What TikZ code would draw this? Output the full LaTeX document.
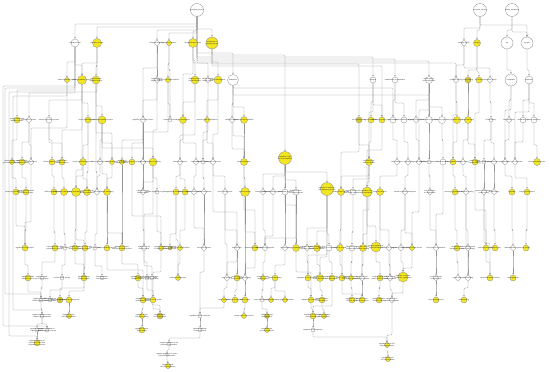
\documentclass[tikz,border=0pt]{standalone}
\usepackage{fontspec}
\setmainfont{Liberation Sans}
\usepackage{tikz}
\usetikzlibrary{arrows.meta}
\usetikzlibrary{backgrounds}
\definecolor{goyel}{RGB}{242,230,34}
\definecolor{gomid}{RGB}{214,200,40}
\newcommand{\isa}[3]{\draw[isa] (#1.south) |- (#2.north |- 0,#3) -- (#2.north);}
\newcommand{\isavia}[5]{\draw[isa] (#1.south) |- (#4,#3) |- (#2.north |- 0,#5) -- (#2.north);}
\tikzset{
  goterm/.style={circle,draw=black!45,fill=white,line width=0.3pt,inner sep=0pt,minimum size=#1pt},
  gohit/.style={goterm=#1,fill=goyel},
  gomid/.style={goterm=#1,fill=gomid},
  lbl/.style={font=\fontsize{1.6}{1.8}\selectfont,text=black!90,inner sep=0pt,text width=22pt,align=center},
  lab/.style={label={[lbl]center:#1}},
  isa/.style={draw=black!42,line width=0.35pt,rounded corners=1pt,-{Stealth[length=1.8pt,width=1.4pt]}}
}

\begin{document}
\begin{tikzpicture}[x=1pt,y=-1pt]
  \useasboundingbox (0,0) rectangle (550,372);
  % roots
  \node[goterm=13,lab=biological\_process] (a1) at (197,10) {};
  \node[goterm=13,lab=molecular\_function] (a2) at (480,10) {};
  \node[goterm=13,lab=cellular\_component] (a3) at (512,10) {};
  % level b
  \node[goterm=8,lab=cellular process] (b1) at (75,43) {};
  \node[gohit=9,lab=metabolic process] (b2) at (97,43) {};
  \node[goterm=5,lab=biological regulation] (b3) at (157,43) {};
  \node[gohit=5,lab=response to stimulus] (b4) at (169,43) {};
  \node[gohit=9,lab=developmental process] (b5) at (193,43) {};
  \node[gohit=12,lab=multicellular organismal process] (b6) at (212,43) {};
  \node[goterm=5,lab=catalytic activity] (b7) at (464,43) {};
  \node[gohit=7,lab=binding] (b8) at (477,43) {};
  \node[goterm=12,lab=cell] (b9) at (507,43) {};
  \node[goterm=12,lab=cell part] (b10) at (527,43) {};
  % level c
  \node[gohit=5,lab=cellular metabolic process] (c1) at (67,80) {};
  \node[gohit=9,lab=primary metabolic process] (c2) at (82,80) {};
  \node[gohit=8,lab=macromolecule metabolic process] (c3) at (96,80) {};
  \node[goterm=5,lab=regulation of biological process] (c4) at (157,80) {};
  \node[gohit=5,lab=response to chemical stimulus] (c5) at (168,80) {};
  \node[gohit=8,lab=anatomical structure development] (c6) at (195,80) {};
  \node[goterm=5,lab=cellular developmental process] (c7) at (208,80) {};
  \node[gohit=8,lab=system development] (c8) at (218,80) {};
  \node[goterm=11,lab=localization] (c9) at (233,80) {};
  \node[goterm=6,lab=transport] (c10) at (373,80) {};
  \node[goterm=6,lab=establishment of localization] (c11) at (395,80) {};
  \node[goterm=7,lab=cellular component organization] (c12) at (429,80) {};
  \node[goterm=5,lab=hydrolase activity] (c13) at (456,80) {};
  \node[gomid=6,lab=protein binding] (c14) at (468,80) {};
  \node[gohit=6,lab=ion binding] (c15) at (479,80) {};
  \node[goterm=5,lab=transferase activity] (c16) at (490,80) {};
  \node[goterm=12,lab=intracellular] (c17) at (511,80) {};
  \node[goterm=8,lab=membrane] (c18) at (529,80) {};
  % level d
  \node[gohit=6,lab=nitrogen compound metabolic process] (d1) at (17,120) {};
  \node[goterm=5,lab=biosynthetic process] (d2) at (29,120) {};
  \node[goterm=6,lab=cellular biosynthetic process] (d3) at (49,120) {};
  \node[gohit=6,lab=protein metabolic process] (d4) at (88,120) {};
  \node[gohit=8,lab=nucleic acid metabolic process] (d5) at (102,120) {};
  \node[goterm=5,lab=regulation of cellular process] (d6) at (143,120) {};
  \node[goterm=4,lab=response to stress] (d7) at (170,120) {};
  \node[gohit=7,lab=organ development] (d8) at (183,120) {};
  \node[gohit=5,lab=nervous system development] (d9) at (207,120) {};
  \node[goterm=5,lab=cellular localization] (d10) at (232,120) {};
  \node[gohit=7,lab=macromolecule localization] (d11) at (244,120) {};
  \node[gomid=6,lab=cell communication] (d12) at (359,120) {};
  \node[gohit=6,lab=signal transduction] (d13) at (371,120) {};
  \node[gohit=6,lab=cell surface receptor signaling] (d14) at (382,120) {};
  \node[goterm=6,lab=ion transport] (d15) at (393,120) {};
  \node[goterm=6,lab=vesicle-mediated transport] (d16) at (404,120) {};
  \node[goterm=5,lab=organelle organization] (d17) at (416,120) {};
  \node[goterm=7,lab=cytoskeleton organization] (d18) at (429,120) {};
  \node[goterm=7,lab=membrane organization] (d19) at (442,120) {};
  \node[gohit=7,lab=peptidase activity] (d20) at (457,120) {};
  \node[gohit=7,lab=enzyme binding] (d21) at (468,120) {};
  \node[goterm=4,lab=kinase activity] (d22) at (491,120) {};
  \node[goterm=5,lab=intracellular part] (d23) at (509,120) {};
  \node[goterm=6,lab=membrane part] (d24) at (523,120) {};
  \node[goterm=6,lab=plasma membrane] (d25) at (534,120) {};
  % level e
  \node[gohit=5,lab=cellular nitrogen compound metabolic process] (e1) at (12,162) {};
  \node[gohit=6,lab=macromolecule biosynthetic process] (e2) at (22,162) {};
  \node[goterm=5,lab=gene expression] (e3) at (31,162) {};
  \node[gohit=6,lab=RNA metabolic process] (e4) at (52,162) {};
  \node[gohit=6,lab=cellular protein metabolic process] (e5) at (62,162) {};
  \node[gohit=7,lab=protein modification process] (e6) at (83,162) {};
  \node[goterm=5,lab=DNA metabolic process] (e7) at (100,162) {};
  \node[gohit=5,lab=RNA processing] (e8) at (112,162) {};
  \node[gohit=5,lab=regulation of metabolic process] (e9) at (122,162) {};
  \node[gohit=6,lab=regulation of gene expression] (e10) at (132,162) {};
  \node[goterm=5,lab=signaling] (e11) at (143,162) {};
  \node[gohit=8,lab=regulation of signaling] (e12) at (153,162) {};
  \node[goterm=5,lab=tissue development] (e13) at (180,162) {};
  \node[goterm=5,lab=neurogenesis] (e14) at (196,162) {};
  \node[goterm=4,lab=cell differentiation] (e15) at (203,162) {};
  \node[goterm=5,lab=generation of neurons] (e16) at (213,162) {};
  \node[gohit=7,lab=protein localization] (e17) at (244,162) {};
  \node[gohit=13,lab=multicellular organismal development] (e18) at (285,158) {};
  \node[gohit=7,lab=intracellular signal transduction] (e19) at (369,162) {};
  \node[goterm=5,lab=cation transport] (e20) at (397,162) {};
  \node[goterm=5,lab=endocytosis] (e21) at (408,162) {};
  \node[goterm=5,lab=organelle assembly] (e22) at (419,162) {};
  \node[goterm=4,lab=actin filament organization] (e23) at (429,162) {};
  \node[goterm=6,lab=membrane fusion] (e24) at (443,162) {};
  \node[gohit=6,lab=endopeptidase activity] (e25) at (453,162) {};
  \node[goterm=5,lab=receptor binding] (e26) at (463,162) {};
  \node[gohit=6,lab=protein domain specific binding] (e27) at (475,162) {};
  \node[goterm=4,lab=protein kinase activity] (e28) at (484,162) {};
  \node[goterm=5,lab=phosphotransferase activity] (e29) at (494,162) {};
  \node[goterm=5,lab=organelle] (e30) at (505,162) {};
  \node[goterm=5,lab=intrinsic to membrane] (e31) at (515,162) {};
  \node[gohit=7,lab=plasma membrane part] (e32) at (537,162) {};
  % level f
  \node[gohit=6,lab=nucleobase metabolic process] (f1) at (16,192) {};
  \node[gohit=6,lab=cellular macromolecule biosynthetic process] (f2) at (26,192) {};
  \node[gohit=6,lab=RNA biosynthetic process] (f3) at (54,192) {};
  \node[gohit=7,lab=transcription DNA-dependent] (f4) at (64,192) {};
  \node[gohit=9,lab=protein phosphorylation] (f5) at (76,192) {};
  \node[gohit=7,lab=post-translational protein modification] (f6) at (87,192) {};
  \node[goterm=5,lab=DNA repair] (f7) at (97,192) {};
  \node[gohit=7,lab=mRNA processing] (f8) at (107,192) {};
  \node[goterm=5,lab=regulation of signal transduction] (f9) at (143,192) {};
  \node[goterm=4,lab=positive regulation of signaling] (f10) at (157,192) {};
  \node[gohit=6,lab=epithelium development] (f11) at (176,192) {};
  \node[gohit=6,lab=tube development] (f12) at (185,192) {};
  \node[goterm=5,lab=neuron differentiation] (f13) at (194,192) {};
  \node[goterm=5,lab=cell fate commitment] (f14) at (204,192) {};
  \node[goterm=5,lab=neuron development] (f15) at (225,192) {};
  \node[gohit=9,lab=protein transport] (f16) at (245,192) {};
  \node[goterm=5,lab=embryo development] (f17) at (263,192) {};
  \node[goterm=5,lab=pattern specification process] (f18) at (273,192) {};
  \node[goterm=6,lab=reproductive process] (f19) at (285,192) {};
  \node[goterm=6,lab=anatomical structure morphogenesis] (f20) at (296,192) {};
  \node[gohit=13,lab=regulation of multicellular organismal process] (f21) at (327,189) {};
  \node[gohit=7,lab=protein kinase cascade] (f22) at (341,192) {};
  \node[goterm=6,lab=small GTPase mediated signal transduction] (f23) at (353,192) {};
  \node[gohit=10,lab=regulation of signal transduction] (f24) at (367,192) {};
  \node[gohit=7,lab=metal ion transport] (f25) at (380,192) {};
  \node[goterm=5,lab=receptor-mediated endocytosis] (f26) at (405,192) {};
  \node[goterm=5,lab=actin cytoskeleton organization] (f27) at (430,192) {};
  \node[gohit=6,lab=serine-type peptidase activity] (f28) at (455,192) {};
  \node[goterm=5,lab=growth factor binding] (f29) at (466,192) {};
  \node[goterm=5,lab=protein serine/threonine kinase activity] (f30) at (484,192) {};
  \node[goterm=5,lab=kinase binding] (f31) at (494,192) {};
  \node[gohit=6,lab=cytoplasm] (f32) at (512,192) {};
  \node[gohit=6,lab=integral to membrane] (f33) at (527,192) {};
  % level g
  \node[gohit=6,lab=regulation of transcription] (g1) at (25,248) {};
  \node[gohit=6,lab=transcription from RNA polymerase II promoter] (g2) at (55,248) {};
  \node[goterm=4,lab=RNA splicing] (g3) at (65,248) {};
  \node[gohit=6,lab=peptidyl-amino acid modification] (g4) at (75,248) {};
  \node[gohit=6,lab=protein amino acid phosphorylation] (g5) at (85,248) {};
  \node[goterm=4,lab=DNA replication] (g6) at (95,248) {};
  \node[gohit=6,lab=mRNA metabolic process] (g7) at (107,248) {};
  \node[gohit=6,lab=regulation of macromolecule metabolic process] (g8) at (122,248) {};
  \node[goterm=5,lab=regulation of cell communication] (g9) at (144,248) {};
  \node[gohit=5,lab=positive regulation of cellular process] (g10) at (161,248) {};
  \node[gomid=4,lab=negative regulation of cellular process] (g11) at (170,248) {};
  \node[gohit=5,lab=epithelial cell differentiation] (g12) at (180,248) {};
  \node[goterm=5,lab=cell morphogenesis] (g13) at (204,248) {};
  \node[goterm=5,lab=axonogenesis] (g14) at (237,248) {};
  \node[gohit=6,lab=intracellular protein transport] (g15) at (255,248) {};
  \node[goterm=5,lab=embryonic morphogenesis] (g16) at (265,248) {};
  \node[goterm=5,lab=reproduction] (g17) at (285,248) {};
  \node[gohit=7,lab=organ morphogenesis] (g18) at (296,248) {};
  \node[goterm=5,lab=regulation of developmental process] (g19) at (307,248) {};
  \node[gohit=7,lab=positive regulation of developmental process] (g20) at (317,248) {};
  \node[goterm=6,lab=regulation of cell differentiation] (g21) at (329,248) {};
  \node[gohit=7,lab=MAPKKK cascade] (g22) at (340,248) {};
  \node[goterm=6,lab=Ras protein signal transduction] (g23) at (352,248) {};
  \node[gohit=7,lab=regulation of intracellular signaling] (g24) at (363,248) {};
  \node[gohit=10,lab=positive regulation of signal transduction] (g25) at (376,247) {};
  \node[goterm=5,lab=calcium ion transport] (g26) at (389,248) {};
  \node[goterm=5,lab=regulation of endocytosis] (g27) at (401,248) {};
  \node[gohit=5,lab=actin filament-based process] (g28) at (412,248) {};
  \node[goterm=5,lab=cell projection organization] (g29) at (436,248) {};
  \node[gohit=6,lab=serine-type endopeptidase activity] (g30) at (457,248) {};
  \node[goterm=5,lab=transforming growth factor beta binding] (g31) at (468,248) {};
  \node[gohit=6,lab=protein kinase binding] (g32) at (486,248) {};
  \node[gohit=6,lab=cytoplasmic part] (g33) at (495,248) {};
  \node[goterm=5,lab=endomembrane system] (g34) at (513,248) {};
  \node[gohit=6,lab=cell surface] (g35) at (526,248) {};
  % level h
  \node[gohit=6,lab=regulation of RNA metabolic process] (h1) at (28,278) {};
  \node[goterm=4,lab=negative regulation of transcription] (h2) at (42,278) {};
  \node[goterm=4,lab=nuclear mRNA splicing] (h3) at (62,278) {};
  \node[gohit=6,lab=peptidyl-tyrosine phosphorylation] (h4) at (84,278) {};
  \node[goterm=4,lab=DNA-dependent DNA replication] (h5) at (102,278) {};
  \node[gohit=6,lab=regulation of protein metabolic process] (h6) at (138,278) {};
  \node[goterm=4,lab=regulation of cell proliferation] (h7) at (147,278) {};
  \node[goterm=4,lab=positive regulation of cell proliferation] (h8) at (152,278) {};
  \node[gohit=5,lab=epidermis development] (h9) at (178,278) {};
  \node[goterm=5,lab=axon guidance] (h10) at (227,278) {};
  \node[gohit=6,lab=neuron projection development] (h11) at (237,278) {};
  \node[goterm=5,lab=protein targeting] (h12) at (245,278) {};
  \node[gohit=5,lab=embryonic organ morphogenesis] (h13) at (263,278) {};
  \node[gohit=6,lab=gamete generation] (h14) at (275,278) {};
  \node[gohit=6,lab=regulation of cell development] (h15) at (308,278) {};
  \node[gohit=7,lab=positive regulation of cell differentiation] (h16) at (320,278) {};
  \node[gohit=6,lab=regulation of neuron differentiation] (h17) at (332,278) {};
  \node[gohit=6,lab=MAPK cascade] (h18) at (342,278) {};
  \node[gohit=5,lab=regulation of Ras protein signal transduction] (h19) at (351,278) {};
  \node[goterm=5,lab=regulation of protein kinase cascade] (h20) at (362,278) {};
  \node[gohit=6,lab=positive regulation of protein kinase cascade] (h21) at (380,278) {};
  \node[goterm=5,lab=cellular calcium ion homeostasis] (h22) at (390,278) {};
  \node[gohit=10,lab=regulation of cellular component organization] (h23) at (403,277) {};
  \node[goterm=5,lab=neuron projection morphogenesis] (h24) at (436,278) {};
  \node[goterm=5,lab=trypsin activity] (h25) at (458,278) {};
  \node[goterm=5,lab=SMAD binding] (h26) at (468,278) {};
  \node[gohit=6,lab=cytoskeletal protein binding] (h27) at (490,278) {};
  \node[gohit=6,lab=Golgi apparatus] (h28) at (513,278) {};
  % level i
  \node[goterm=4,lab=negative regulation of RNA metabolic process] (i1) at (41,300) {};
  \node[goterm=4,lab=RNA splicing via transesterification] (i2) at (50,300) {};
  \node[gomid=6,lab=peptidyl-tyrosine modification] (i3) at (60,300) {};
  \node[gohit=6,lab=regulation of phosphorylation] (i4) at (69,300) {};
  \node[gohit=6,lab=regulation of protein modification process] (i5) at (143,300) {};
  \node[gohit=6,lab=regulation of cell growth] (i6) at (153,300) {};
  \node[gohit=5,lab=axon extension] (i7) at (224,300) {};
  \node[gohit=6,lab=dendrite development] (i8) at (235,300) {};
  \node[gohit=6,lab=protein import] (i9) at (245,300) {};
  \node[goterm=4,lab=heart morphogenesis] (i10) at (262,300) {};
  \node[gohit=5,lab=spermatogenesis] (i11) at (271,300) {};
  \node[gohit=5,lab=male gamete generation] (i12) at (285,300) {};
  \node[gohit=6,lab=regulation of neurogenesis] (i13) at (311,300) {};
  \node[gohit=6,lab=positive regulation of neurogenesis] (i14) at (322,300) {};
  \node[gohit=6,lab=regulation of Ras GTPase activity] (i15) at (352,300) {};
  \node[gohit=6,lab=activation of protein kinase activity] (i16) at (362,300) {};
  \node[gohit=6,lab=positive regulation of MAPK cascade] (i17) at (379,300) {};
  \node[goterm=5,lab=regulation of organelle organization] (i18) at (392,300) {};
  \node[gohit=6,lab=axon morphogenesis] (i19) at (436,300) {};
  \node[gohit=6,lab=activin binding] (i20) at (464,300) {};
  % level j
  \node[goterm=4,lab=negative regulation of transcription DNA-dependent] (j1) at (42,316) {};
  \node[gohit=5,lab=regulation of protein phosphorylation] (j2) at (69,316) {};
  \node[gohit=5,lab=regulation of protein kinase activity] (j3) at (142,316) {};
  \node[gomid=6,lab=negative regulation of cell growth] (j4) at (160,316) {};
  \node[goterm=4,lab=regulation of axon extension] (j5) at (200,316) {};
  \node[gohit=5,lab=protein import into nucleus] (j6) at (244,316) {};
  \node[gomid=5,lab=cardiac chamber morphogenesis] (j7) at (267,316) {};
  \node[gohit=6,lab=regulation of neuron projection development] (j8) at (313,316) {};
  \node[gohit=5,lab=positive regulation of axonogenesis] (j9) at (324,316) {};
  % level k
  \node[goterm=4,lab=negative regulation of gene expression] (k1) at (37,330) {};
  \node[goterm=4,lab=negative regulation of RNA biosynthetic process] (k2) at (47,330) {};
  \node[gohit=6,lab=regulation of transferase activity] (k3) at (142,330) {};
  \node[goterm=4,lab=negative regulation of axon extension] (k4) at (200,330) {};
  \node[gohit=5,lab=ventricular septum morphogenesis] (k5) at (267,330) {};
  \node[goterm=4,lab=regulation of axonogenesis] (k6) at (313,330) {};
  % levels l to n
  \node[gohit=6,lab=negative regulation of transcription from RNA polymerase II promoter] (l1) at (37,343) {};
  \node[goterm=4,lab=negative regulation of cell projection organization] (l2) at (169,344) {};
  \node[gohit=5,lab=regulation of actin filament polymerization] (l3) at (387,345) {};
  \node[goterm=3,lab=negative regulation of neuron projection development] (m1) at (167,355) {};
  \node[gohit=5,lab=regulation of protein polymerization] (m2) at (388,359) {};
  \node[gohit=5,lab=negative regulation of axonogenesis] (n1) at (168,366) {};

  \begin{scope}[on background layer]
  \fill[white] (0,0) rectangle (550,372);
  % from the roots
  \isa{a1}{b1}{24} \isa{a1}{b2}{27} \isa{a1}{b3}{30} \isa{a1}{b4}{33}
  \isa{a1}{b5}{31} \isa{a1}{b6}{29}
  \isa{a1}{c9}{53} \isa{a1}{c10}{57} \isa{a1}{c11}{59} \isa{a1}{c12}{61}
  \isa{a1}{c13}{63}
  \isa{a2}{b7}{28} \isa{a2}{b8}{30} \isa{a2}{b10}{25}
  \isa{a3}{b9}{30} \isa{a3}{b10}{32}
  % b to c
  \isa{b1}{c1}{62} \isa{b1}{c2}{65} \isa{b2}{c2}{63} \isa{b2}{c3}{66}
  \isa{b3}{c4}{62} \isa{b4}{c5}{64} \isa{b5}{c6}{60} \isa{b5}{c7}{63}
  \isa{b6}{c8}{62} \isa{b6}{e18}{55} \isa{b6}{d12}{64} \isa{b6}{d14}{66}
  \isa{b7}{c13}{65} \isa{b7}{c16}{68} \isa{b8}{c14}{70} \isa{b8}{c15}{72}
  \isa{b9}{c17}{70} \isa{b10}{c18}{70}
  \isa{b3}{d6}{68} \isa{b4}{d7}{70} \isa{b5}{d8}{74}
  % c to d
  \isa{b1}{d1}{90} \isa{b1}{d2}{93}
  \isa{c2}{d3}{100} \isa{c2}{d4}{103} \isa{c3}{d5}{106}
  \isa{c4}{d6}{100} \isa{c5}{d7}{104} \isa{c6}{d8}{102} \isa{c8}{d9}{100}
  \isa{c9}{d10}{104} \isa{c9}{d11}{107} \isa{c9}{d15}{88} \isa{c9}{d18}{95}
  \isa{c10}{d13}{102} \isa{c10}{d14}{105} \isa{c11}{d15}{100} \isa{c11}{d16}{103}
  \isa{c12}{d17}{100} \isa{c12}{d18}{104} \isa{c12}{d19}{107}
  \isa{c13}{d20}{102} \isa{c14}{d21}{104} \isa{c16}{d22}{102}
  \isa{c17}{d23}{100} \isa{c18}{d24}{100} \isa{c18}{d25}{103}
  % d to e
  \isa{d1}{e1}{140} \isa{d2}{e2}{142} \isa{d2}{e3}{145} \isa{d3}{e4}{140}
  \isa{d3}{e5}{143} \isa{d4}{e6}{145} \isa{d5}{e7}{140} \isa{d5}{e8}{143}
  \isa{d6}{e9}{140} \isa{d6}{e10}{143} \isa{d6}{e11}{146} \isa{d5}{e12}{148}
  \isa{d8}{e13}{140} \isa{d8}{e14}{143} \isa{d9}{e15}{140} \isa{d9}{e16}{143}
  \isa{d11}{e17}{145} \isa{c2}{e5}{130} \isa{c3}{e8}{133}
  \isa{c1}{e3}{128} \isa{c4}{e12}{130} \isa{c5}{e11}{132} \isa{c6}{e13}{135}
  \isa{c7}{e15}{132} \isa{c8}{e16}{134} \isa{c9}{e17}{136} \isa{d10}{e17}{149}
  \isa{d13}{e19}{142} \isa{d12}{e19}{145} \isa{d15}{e20}{140} \isa{d16}{e21}{142}
  \isa{d17}{e22}{140} \isa{d18}{e23}{142} \isa{d19}{e24}{140} \isa{d20}{e25}{142}
  \isa{d21}{e26}{140} \isa{d21}{e27}{144} \isa{d22}{e28}{140} \isa{d22}{e29}{143}
  \isa{d23}{e30}{140} \isa{d24}{e31}{142} \isa{d25}{e32}{145}
  \isa{c10}{e19}{112} \isa{c12}{e22}{110} \isa{c13}{e25}{115} \isa{c15}{e27}{113}
  \isa{c17}{e30}{110} \isa{c18}{e31}{112}
  % e to f
  \isa{e1}{f1}{178} \isa{e2}{f2}{178} \isa{e4}{f3}{176} \isa{e5}{f4}{178}
  \isa{e6}{f5}{176} \isa{e6}{f6}{179} \isa{e7}{f7}{176} \isa{e8}{f8}{178}
  \isa{e11}{f9}{176} \isa{e12}{f10}{178} \isa{e13}{f11}{176} \isa{e13}{f12}{179}
  \isa{e14}{f13}{176} \isa{e15}{f14}{178} \isa{e16}{f15}{176} \isa{e17}{f16}{178}
  \isa{e18}{f17}{174} \isa{e18}{f18}{176} \isa{e18}{f19}{178} \isa{e18}{f20}{180}
  \isa{e18}{f21}{172} \isa{e19}{f22}{176} \isa{e19}{f23}{179} \isa{e19}{f24}{182}
  \isa{e20}{f25}{176} \isa{e21}{f26}{176} \isa{e23}{f27}{176} \isa{e25}{f28}{176}
  \isa{e26}{f29}{176} \isa{e28}{f30}{176} \isa{e29}{f31}{178} \isa{e30}{f32}{176}
  \isa{e31}{f33}{178}
  \isa{c2}{f5}{170} \isa{c3}{f7}{172} \isa{d4}{f6}{172} \isa{d5}{f8}{174}
  \isa{d6}{f9}{170} \isa{e12}{f9}{182} \isa{d14}{f24}{150} \isa{d12}{f22}{152}
  % f to g
  \isa{f2}{g1}{230} \isa{f3}{g2}{232} \isa{f4}{g3}{234} \isa{f5}{g4}{230}
  \isa{f6}{g5}{232} \isa{f7}{g6}{234} \isa{f8}{g7}{230} \isa{f8}{g8}{233}
  \isa{f9}{g9}{230} \isa{f10}{g10}{232} \isa{f11}{g11}{234} \isa{f12}{g12}{230}
  \isa{f14}{g13}{232} \isa{f15}{g14}{230} \isa{f16}{g15}{232} \isa{f17}{g16}{230}
  \isa{f19}{g17}{232} \isa{f20}{g18}{234} \isa{f21}{g19}{228} \isa{f21}{g20}{231}
  \isa{f21}{g21}{234} \isa{f22}{g22}{230} \isa{f23}{g23}{232} \isa{f24}{g24}{234}
  \isa{f24}{g25}{226} \isa{f25}{g26}{230} \isa{f26}{g27}{230} \isa{f26}{g28}{233}
  \isa{f27}{g29}{230} \isa{f28}{g30}{230} \isa{f29}{g31}{230} \isa{f30}{g32}{230}
  \isa{f31}{g33}{230} \isa{f32}{g34}{230} \isa{f33}{g35}{230}
  \isa{e3}{g1}{222} \isa{e9}{g8}{220} \isa{e10}{g10}{216} \isa{e12}{g9}{214}
  \isa{e16}{g14}{212} \isa{e17}{g15}{210} \isa{e18}{g18}{205} \isa{e19}{g24}{210}
  \isa{e22}{g28}{212} \isa{e24}{g29}{214} \isa{e27}{g32}{210}
  \isa{f1}{g1}{226} \isa{f13}{g13}{228} \isa{f18}{g16}{236} \isa{f20}{g16}{238}
  % g to h
  \isa{g1}{h1}{265} \isa{g2}{h2}{262} \isa{g3}{h3}{265} \isa{g5}{h4}{268}
  \isa{g4}{h4}{264} \isa{g6}{h5}{266} \isa{g8}{h6}{264} \isa{g9}{h7}{262}
  \isa{g9}{h8}{266} \isa{g12}{h9}{264} \isa{g14}{h10}{262} \isa{g14}{h11}{265}
  \isa{g15}{h12}{268} \isa{g16}{h13}{262} \isa{g17}{h14}{265} \isa{g19}{h15}{262}
  \isa{g20}{h16}{265} \isa{g21}{h17}{262} \isa{g22}{h18}{265} \isa{g23}{h19}{262}
  \isa{g24}{h20}{265} \isa{g25}{h21}{262} \isa{g26}{h22}{265} \isa{g27}{h23}{262}
  \isa{g28}{h23}{268} \isa{g29}{h24}{262} \isa{g30}{h25}{262} \isa{g31}{h26}{265}
  \isa{g32}{h27}{262} \isa{g34}{h28}{262}
  \isa{f21}{h15}{255} \isa{f21}{h16}{257} \isa{f16}{h12}{252}
  \isa{f5}{h4}{240} \isa{f11}{h9}{240} \isa{f15}{h10}{244} \isa{f22}{h18}{245}
  \isa{f24}{h20}{246} \isa{f25}{h22}{247} \isa{f29}{h26}{246} \isa{f30}{h27}{243}
  % h to i and below
  \isa{h2}{i1}{288} \isa{h3}{i2}{290} \isa{h4}{i3}{288} \isa{h4}{i4}{291}
  \isa{h6}{i5}{288} \isa{h7}{i6}{290} \isa{h10}{i7}{288} \isa{h11}{i8}{290}
  \isa{h12}{i9}{288} \isa{h13}{i10}{290} \isa{h14}{i11}{288} \isa{h14}{i12}{291}
  \isa{h15}{i13}{288} \isa{h16}{i14}{290} \isa{h19}{i15}{288} \isa{h20}{i16}{290}
  \isa{h21}{i17}{288} \isa{h22}{i18}{290} \isa{h24}{i19}{288} \isa{h26}{i20}{288}
  \isa{h1}{i1}{292} \isa{g7}{i5}{270} \isa{g10}{i6}{272} \isa{g13}{j5}{272}
  \isa{g18}{i13}{272} \isa{h18}{i16}{294} \isa{h23}{i18}{293}
  \isa{i1}{j1}{309} \isa{i4}{j2}{309} \isa{i5}{j3}{309} \isa{i6}{j4}{309}
  \isa{i7}{j5}{308} \isa{i9}{j6}{309} \isa{i10}{j7}{309} \isa{i13}{j8}{309}
  \isa{i14}{j9}{309} \isa{h8}{j4}{305} \isa{h17}{j8}{306}
  \isa{j1}{k1}{324} \isa{j1}{k2}{324} \isa{j3}{k3}{324} \isa{j5}{k4}{324}
  \isa{j7}{k5}{324} \isa{j8}{k6}{324}
  \isa{k1}{l1}{337} \isa{k4}{l2}{338} \isa{i18}{l3}{335} \isa{k6}{l3}{337}
  \isa{l2}{m1}{350} \isa{l3}{m2}{352} \isa{m1}{n1}{362}
  % long detours on the left
  \isavia{b1}{i1}{88}{5}{294}
  \isavia{b2}{l1}{92}{9}{336}
  \isavia{c1}{j1}{96}{13}{310}
  \isavia{b1}{k2}{86}{3}{326}
  \end{scope}
\end{tikzpicture}
\end{document}
